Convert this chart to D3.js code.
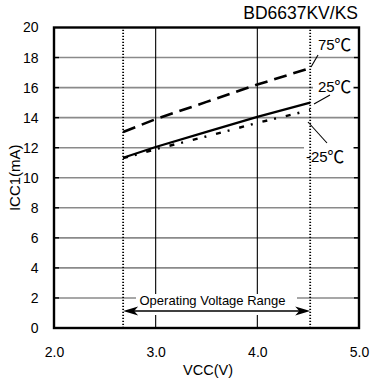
<!DOCTYPE html>
<html>
<head>
<meta charset="utf-8">
<script src="https://cdn.jsdelivr.net/npm/d3@7"></script>
<style>
  html, body { margin: 0; padding: 0; background: #fff; }
  svg { display: block; font-family: "Liberation Sans", Arial, "Noto Sans CJK JP", sans-serif; }
</style>
</head>
<body>
<svg id="chart" width="370" height="387"></svg>
<script>
// Supply current ICC1 versus supply voltage VCC at three temperatures
const vcc = [2.68, 3.0, 3.5, 4.0, 4.52];
const icc75 = [13.05, 13.9, 15.05, 16.2, 17.3];
const icc25 = [11.33, 12.05, 13.05, 14.05, 15.0];
const iccM25 = [11.3, 11.9, 12.75, 13.65, 14.5];
const seriesTemps = ["75", "25", "-25"];
const xTicks = [2.0, 3.0, 4.0, 5.0];
const yTicks = [0, 2, 4, 6, 8, 10, 12, 14, 16, 18, 20];
const xGrid = [3.0, 4.0];
const operatingRange = [2.68, 4.52];
const title = "BD6637KV/KS";
const xTitle = "VCC(V)";
const yTitle = "ICC1(mA)";
const rangeLabel = "Operating Voltage Range";

const svg = d3.select("#chart");
const x = d3.scaleLinear().domain([2, 5]).range([54, 359]);
const y = d3.scaleLinear().domain([0, 20]).range([328, 27.5]);

// horizontal grid (gray) and vertical grid (black)
svg.append("g").selectAll("line").data(yTicks.slice(1, -1)).join("line")
  .attr("x1", x(2)).attr("x2", x(5))
  .attr("y1", d => y(d)).attr("y2", d => y(d))
  .attr("stroke", "#8a8a8a").attr("stroke-width", 1.6);
svg.append("g").selectAll("line").data(xGrid).join("line")
  .attr("x1", d => x(d)).attr("x2", d => x(d))
  .attr("y1", y(0)).attr("y2", y(20))
  .attr("stroke", "#000").attr("stroke-width", 1.1);

// inner ticks on both vertical edges
svg.append("g").selectAll("line").data(yTicks.slice(1, -1)).join("line")
  .attr("x1", x(2)).attr("x2", x(2) + 5)
  .attr("y1", d => y(d)).attr("y2", d => y(d))
  .attr("stroke", "#000").attr("stroke-width", 1.4);
svg.append("g").selectAll("line").data(yTicks.slice(1, -1)).join("line")
  .attr("x1", x(5) - 5).attr("x2", x(5))
  .attr("y1", d => y(d)).attr("y2", d => y(d))
  .attr("stroke", "#000").attr("stroke-width", 1.4);

// white boxes behind the curve labels and the range label
svg.append("rect").attr("x", 313).attr("y", 78).attr("width", 40).attr("height", 17).attr("fill", "#fff");
svg.append("rect").attr("x", 304).attr("y", 146).attr("width", 49).attr("height", 18).attr("fill", "#fff");
svg.append("rect").attr("x", 136).attr("y", 294).attr("width", 161).attr("height", 21).attr("fill", "#fff");

// operating voltage bounds (dotted)
svg.append("g").selectAll("line").data(operatingRange).join("line")
  .attr("x1", d => x(d)).attr("x2", d => x(d))
  .attr("y1", y(0)).attr("y2", y(20))
  .attr("stroke", "#000").attr("stroke-width", 1.8)
  .attr("stroke-dasharray", "1.2 1.8");

// curves
const pts = arr => vcc.map((v, i) => [x(v), y(arr[i])]);
const line = d3.line();
svg.append("path").attr("d", line(pts(icc75)))
  .attr("fill", "none").attr("stroke", "#000").attr("stroke-width", 2.6)
  .attr("stroke-dasharray", "13 7");
svg.append("path").attr("d", line(pts(icc25)))
  .attr("fill", "none").attr("stroke", "#000").attr("stroke-width", 2.2);
svg.append("path").attr("d", line(pts(iccM25)))
  .attr("fill", "none").attr("stroke", "#000").attr("stroke-width", 2.4)
  .attr("stroke-dasharray", "5 7 2 10");

// curve labels with leader lines
const labelPos = [[318, 50], [318, 92], [306, 162]];
const leaders = [[318, 55, 311, 67], [330, 95, 314, 104], [308, 122, 327, 143]];
const labels = svg.append("g").selectAll("text").data(seriesTemps).join("text")
  .attr("x", (d, i) => labelPos[i][0]).attr("y", (d, i) => labelPos[i][1])
  .attr("font-size", 15).attr("fill", "#000");
labels.append("tspan").text(d => d);
labels.append("tspan").attr("font-family", "'Noto Sans CJK JP', sans-serif")
  .attr("font-size", 17).attr("dx", -0.5).attr("dy", 0.5).text("℃");
svg.append("g").selectAll("line").data(leaders).join("line")
  .attr("x1", d => d[0]).attr("y1", d => d[1]).attr("x2", d => d[2]).attr("y2", d => d[3])
  .attr("stroke", "#000").attr("stroke-width", 1.1);

// operating range arrow
const ay = 311;
const xl = x(operatingRange[0]), xr = x(operatingRange[1]);
svg.append("line").attr("x1", xl + 4).attr("x2", xr - 4)
  .attr("y1", ay).attr("y2", ay).attr("stroke", "#000").attr("stroke-width", 1.6);
svg.append("path")
  .attr("d", `M${xl},${ay} L${xl + 15},${ay - 4.5} L${xl + 11},${ay} L${xl + 15},${ay + 4.5} Z`)
  .attr("fill", "#000");
svg.append("path")
  .attr("d", `M${xr},${ay} L${xr - 15},${ay - 4.5} L${xr - 11},${ay} L${xr - 15},${ay + 4.5} Z`)
  .attr("fill", "#000");
svg.append("text").attr("x", (136 + 297) / 2 - 4).attr("y", 305)
  .attr("text-anchor", "middle").attr("font-size", 13).text(rangeLabel);

// axis tick labels
const gy = svg.append("g").attr("transform", `translate(${x(2)},0)`)
  .call(d3.axisLeft(y).tickValues(yTicks).tickSize(0).tickPadding(15.5).tickFormat(d3.format("d")));
gy.select(".domain").remove();
gy.selectAll("text").attr("font-size", 14).attr("font-family", null).attr("fill", "#000");

const gx = svg.append("g").attr("transform", `translate(0,${y(0)})`)
  .call(d3.axisBottom(x).tickValues(xTicks).tickSize(0).tickPadding(19).tickFormat(d3.format(".1f")));
gx.select(".domain").remove();
gx.selectAll("text").attr("font-size", 14).attr("font-family", null).attr("fill", "#000");

// plot frame
svg.append("rect").attr("x", x(2)).attr("y", y(20))
  .attr("width", x(5) - x(2)).attr("height", y(0) - y(20))
  .attr("fill", "none").attr("stroke", "#000").attr("stroke-width", 2.4);

// titles
svg.append("text").attr("x", 358).attr("y", 19).attr("text-anchor", "end")
  .attr("font-size", 17.5).text(title);
svg.append("text").attr("x", 208).attr("y", 375).attr("text-anchor", "middle")
  .attr("font-size", 14.5).text(xTitle);
svg.append("text").attr("transform", `translate(20,${(y(0) + y(20)) / 2}) rotate(-90)`)
  .attr("text-anchor", "middle").attr("font-size", 15).text(yTitle);
</script>
</body>
</html>
